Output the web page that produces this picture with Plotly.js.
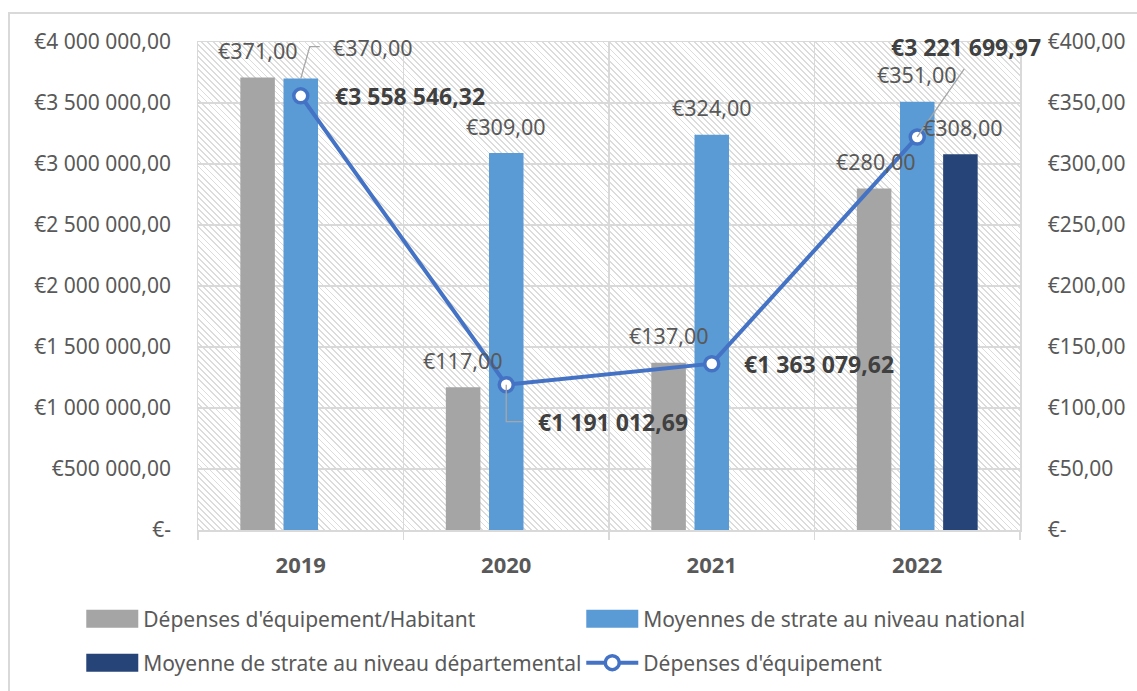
<!DOCTYPE html>
<html>
<head>
<meta charset="utf-8">
<script src="https://cdn.plot.ly/plotly-3.0.1.min.js"></script>
<style>
  html, body { margin:0; padding:0; background:#ffffff; }
  #wrap { position:relative; width:1137px; height:691px; overflow:hidden; background:#fff; }
  #frame { position:absolute; left:8px; top:12px; width:1200px; height:800px; border-left:2px solid #d9d9d9; border-top:2px solid #d9d9d9; }
  #hatch { position:absolute; background: repeating-linear-gradient(45deg, #ffffff 0px, #ffffff 3px, #dcdcdc 3px, #dcdcdc 4.3px); }
  #chart { position:absolute; left:0; top:0; width:1137px; height:691px; }
</style>
</head>
<body>
<div id="wrap">
  <div id="frame"></div>
  <div id="hatch"></div>
  <div id="chart"></div>
</div>
<script>
// ---- data ----
const categories = ['2019', '2020', '2021', '2022'];
const seriesNames = ["Dépenses d'équipement/Habitant", 'Moyennes de strate au niveau national', 'Moyenne de strate au niveau départemental', "Dépenses d'équipement"];
const depensesParHabitant = [371, 117, 137, 280];
const moyenneNationale = [370, 309, 324, 351];
const moyenneDepartementale = [null, null, null, 308];
const depensesEquipement = [3558546.32, 1191012.69, 1363079.62, 3221699.97];

const leftTickValues = [0, 500000, 1000000, 1500000, 2000000, 2500000, 3000000, 3500000, 4000000];
const leftTickLabels = ['€-', '€500 000,00', '€1 000 000,00', '€1 500 000,00', '€2 000 000,00', '€2 500 000,00', '€3 000 000,00', '€3 500 000,00', '€4 000 000,00'];
const rightTickValues = [0, 50, 100, 150, 200, 250, 300, 350, 400];
const rightTickLabels = ['€-', '€50,00', '€100,00', '€150,00', '€200,00', '€250,00', '€300,00', '€350,00', '€400,00'];

// ---- helpers ----
function euro(v) {
  const parts = v.toFixed(2).split('.');
  const intPart = parts[0].replace(/\B(?=(\d{3})+(?!\d))/g, ' ');
  return '€' + intPart + ',' + parts[1];
}

const FONT = 'Noto Sans, Open Sans, sans-serif';
const TXT = '#595959';
const GRID = '#d9d9d9';
const colors = ['#a5a5a5', '#5b9bd5', '#264478', '#4472c4'];

const BARGAP = 0.37;
const SLOT = (1 - BARGAP) / 3;

const traces = [
  { type:'bar', name: seriesNames[0], x: categories, y: depensesParHabitant, yaxis:'y', legend:'legend', marker:{color:colors[0]}, hoverinfo:'skip' },
  { type:'bar', name: seriesNames[1], x: categories, y: moyenneNationale, yaxis:'y', legend:'legend', marker:{color:colors[1]}, hoverinfo:'skip' },
  { type:'bar', name: seriesNames[2], x: categories, y: moyenneDepartementale, yaxis:'y', legend:'legend2', marker:{color:colors[2]}, hoverinfo:'skip' },
  { type:'scatter', mode:'lines+markers', name: seriesNames[3], x: categories, y: depensesEquipement, yaxis:'y2', legend:'legend2',
    line:{color:colors[3], width:4}, marker:{symbol:'circle', size:14, color:'#ffffff', line:{color:colors[3], width:3.5}}, hoverinfo:'skip' }
];

// ---- labels ----
const annotations = [];
const shapes = [];
const barSeries = [depensesParHabitant, moyenneNationale, moyenneDepartementale];
const LBL = {family:FONT, size:21.5, color:TXT};
barSeries.forEach((vals, s) => {
  vals.forEach((v, i) => {
    if (v === null) return;
    const xpos = i + (s - 1) * SLOT;
    if (s === 1 && i === 0) {
      annotations.push({ x: xpos, y: v, xref:'x', yref:'y', text: euro(v), showarrow:false,
        xanchor:'left', yanchor:'middle', xshift: 30, yshift: 31, font:LBL });
      shapes.push({ type:'path', xref:'x', yref:'y', xsizemode:'pixel', ysizemode:'pixel', xanchor: xpos, yanchor: v,
        path:'M0,0 L9,32 L19,32', line:{color:'#a6a6a6', width:1.3} });
      return;
    }
    annotations.push({ x: xpos, y: v, xref:'x', yref:'y', text: euro(v), showarrow:false,
      xanchor:'center', yanchor:'middle', yshift: 27, xshift: (s === 0 && i === 3) ? 2 : (s === 2 ? 3 : 0),
      font:LBL });
  });
});

const lineLabelOffsets = [
  { xanchor:'left', xshift: 32, yshift: 0 },
  { xanchor:'left', xshift: 30, yshift: -37 },
  { xanchor:'left', xshift: 30, yshift: 0 },
  { xanchor:'center', xshift: 49, yshift: 90 }
];
depensesEquipement.forEach((v, i) => {
  const o = lineLabelOffsets[i];
  annotations.push({ x: i, y: v, xref:'x', yref:'y2', text: '<b>' + euro(v) + '</b>', showarrow:false,
    xanchor:o.xanchor, yanchor:'middle', xshift:o.xshift, yshift:o.yshift, font:{family:FONT, size:23, color:'#404040'} });
});
shapes.push({ type:'path', xref:'x', yref:'y2', xsizemode:'pixel', ysizemode:'pixel', xanchor: 1, yanchor: depensesEquipement[1],
  path:'M0,0 L0,-37 L16,-37', line:{color:'#a6a6a6', width:1.3} });
shapes.push({ type:'path', xref:'x', yref:'y2', xsizemode:'pixel', ysizemode:'pixel', xanchor: 3, yanchor: depensesEquipement[3],
  path:'M0,0 L47,68', line:{color:'#a6a6a6', width:1.3} });

const legendBase = { orientation:'h', xanchor:'left', yanchor:'middle',
  entrywidth: 433, entrywidthmode:'pixels', itemwidth: 52,
  font:{family:FONT, size:21, color:TXT}, bgcolor:'rgba(0,0,0,0)', traceorder:'normal' };

const layout = {
  width:1137, height:691,
  margin:{l:198, r:117, t:42, b:161, autoexpand:false},
  paper_bgcolor:'rgba(0,0,0,0)',
  plot_bgcolor:'rgba(0,0,0,0)',
  font:{family:FONT, size:21, color:TXT},
  barmode:'group', bargap: BARGAP, bargroupgap: 0.2,
  showlegend:true,
  legend: Object.assign({}, legendBase, { x: -0.142, y: -(619 - 530) / 488 }),
  legend2: Object.assign({}, legendBase, { x: -0.142, y: -(663 - 530) / 488 }),
  xaxis:{ type:'category', range:[-0.5, categories.length - 0.5], autorange:false,
    tickson:'boundaries', ticks:'outside', ticklen:8, tickcolor:GRID, tickwidth:1.5,
    showgrid:true, gridcolor:GRID, gridwidth:1.5, showline:true, linecolor:GRID, linewidth:1.5, mirror:true,
    tickfont:{family:FONT, size:22, color:TXT, weight:'bold'}, ticklabelstandoff: 15, fixedrange:true },
  yaxis:{ side:'right', range:[0, 400], autorange:false, tickvals: rightTickValues, ticktext: rightTickLabels,
    showgrid:true, gridcolor:GRID, gridwidth:1.5, showline:true, linecolor:GRID, linewidth:1.5, mirror:true,
    zeroline:false, ticks:'', ticklabelstandoff: 22, tickfont:{family:FONT, size:21, color:TXT}, fixedrange:true },
  yaxis2:{ overlaying:'y', side:'left', range:[0, 4000000], autorange:false, tickvals: leftTickValues, ticktext: leftTickLabels,
    showgrid:false, zeroline:false, showline:false, ticks:'', ticklabelstandoff: 26,
    tickfont:{family:FONT, size:21, color:TXT}, fixedrange:true },
  annotations: annotations,
  shapes: shapes
};

const gd = document.getElementById('chart');
Plotly.newPlot(gd, traces, layout, {displayModeBar:false, staticPlot:true}).then(() => {
  const s = gd._fullLayout._size;
  const h = document.getElementById('hatch');
  h.style.left = s.l + 'px';
  h.style.top = s.t + 'px';
  h.style.width = s.w + 'px';
  h.style.height = s.h + 'px';
  // widen bar legend swatches to Excel-like rectangles
  gd.querySelectorAll('.legendpoints path').forEach(p => {
    const d = p.getAttribute('d') || '';
    if (d.indexOf('M6,6H-6V-6H6Z') === 0) p.setAttribute('d', 'M26,9H-26V-9H26Z');
  });
});
</script>
</body>
</html>
